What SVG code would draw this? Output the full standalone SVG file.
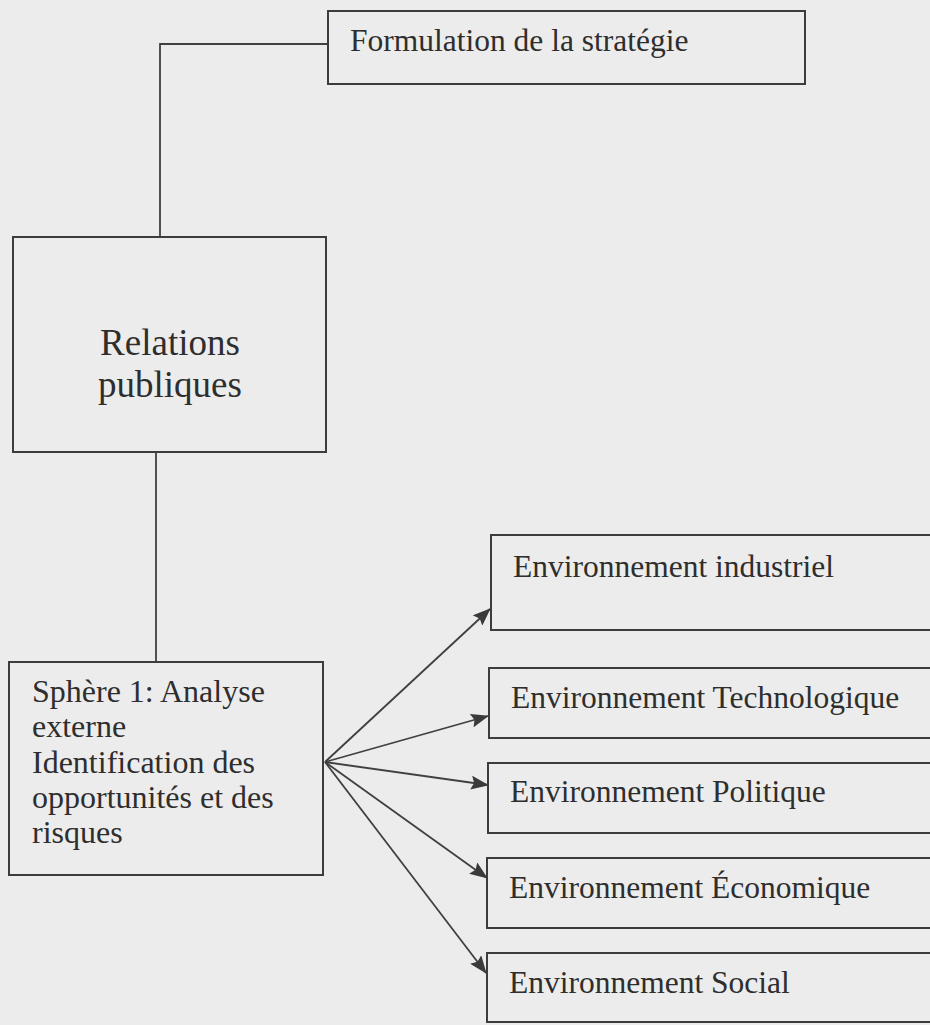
<svg xmlns="http://www.w3.org/2000/svg" width="930" height="1025" viewBox="0 0 930 1025">
<style>
.bx{fill:none;stroke:#3c3c3c;stroke-width:2}
.t{font-family:"Liberation Serif","Times New Roman",serif;fill:#2e2e2e}
.ln{fill:none;stroke:#404040;stroke-width:1.8}
</style>
<defs>
<marker id="ah" markerWidth="18" markerHeight="14" refX="17" refY="7" orient="auto" markerUnits="userSpaceOnUse">
<path d="M0,0 L18,7 L0,14 L3,7 Z" fill="#3a3a3a"/>
</marker>
</defs>
<rect x="0" y="0" width="930" height="1025" fill="#ececec"/>
<g id="connectors">
<polyline class="ln" points="328,44 160,44 160,237"/>
<line class="ln" x1="156" y1="452" x2="156" y2="662"/>
<line class="ln" x1="325" y1="762" x2="490" y2="609" marker-end="url(#ah)"/>
<line class="ln" x1="325" y1="762" x2="488" y2="716" marker-end="url(#ah)"/>
<line class="ln" x1="325" y1="762" x2="488" y2="785" marker-end="url(#ah)"/>
<line class="ln" x1="325" y1="762" x2="487" y2="878" marker-end="url(#ah)"/>
<line class="ln" x1="325" y1="762" x2="486" y2="973" marker-end="url(#ah)"/>
</g>
<g id="formulation">
<rect class="bx" x="328" y="11" width="477" height="73"/>
<text class="t" x="350" y="51" font-size="31.5">Formulation de la stratégie</text>
</g>
<g id="relations">
<rect class="bx" x="13" y="237" width="313" height="215"/>
<text class="t" x="170" y="355" font-size="37" text-anchor="middle">Relations</text>
<text class="t" x="170" y="397" font-size="37" text-anchor="middle">publiques</text>
</g>
<g id="sphere">
<rect class="bx" x="9" y="662" width="314" height="213"/>
<text class="t" x="32" y="702" font-size="32">Sphère 1: Analyse</text>
<text class="t" x="32" y="737" font-size="32">externe</text>
<text class="t" x="32" y="773" font-size="32">Identification des</text>
<text class="t" x="32" y="808" font-size="32">opportunités et des</text>
<text class="t" x="32" y="843" font-size="32">risques</text>
</g>
<g id="env-industriel">
<rect class="bx" x="491" y="535" width="460" height="95"/>
<text class="t" x="513" y="577" font-size="31.5">Environnement industriel</text>
</g>
<g id="env-technologique">
<rect class="bx" x="489" y="668" width="460" height="70"/>
<text class="t" x="511" y="708" font-size="31.5">Environnement Technologique</text>
</g>
<g id="env-politique">
<rect class="bx" x="488" y="763" width="460" height="70"/>
<text class="t" x="510" y="802" font-size="31.5">Environnement Politique</text>
</g>
<g id="env-economique">
<rect class="bx" x="487" y="858" width="460" height="70"/>
<text class="t" x="509" y="898" font-size="31.5">Environnement Économique</text>
</g>
<g id="env-social">
<rect class="bx" x="487" y="953" width="460" height="69"/>
<text class="t" x="509" y="993" font-size="31.5">Environnement Social</text>
</g>
</svg>
